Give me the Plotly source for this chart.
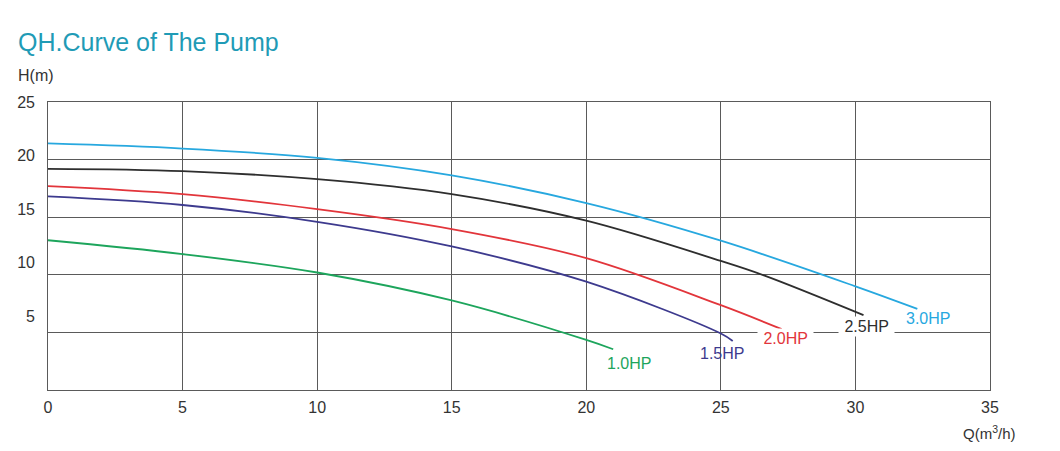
import plotly.graph_objects as go

# ---- data ----
q_30 = [0, 5, 10, 15, 20, 25, 30, 32.3]
h_30 = [21.4, 20.96, 20.15, 18.63, 16.23, 12.96, 9.0, 7.04]

q_25 = [0, 5, 10, 15, 20, 25, 26.6, 30.3]
h_25 = [19.2, 19.0, 18.3, 17.0, 14.7, 11.2, 9.95, 6.5]

q_20 = [0, 5, 10, 15, 20, 25, 27.26]
h_20 = [17.7, 17.0, 15.7, 13.97, 11.45, 7.36, 5.28]

q_15 = [0, 5, 10, 15, 20, 25, 25.44]
h_15 = [16.8, 16.06, 14.6, 12.46, 9.4, 4.9, 4.25]

q_10 = [0, 5, 10, 15, 20, 21.0]
h_10 = [13.0, 11.8, 10.2, 7.77, 4.35, 3.54]

series_names = ["1.0HP", "1.5HP", "2.0HP", "2.5HP", "3.0HP"]
series_colors = ["#1da55c", "#3d3a8e", "#e2353b", "#2e2e2e", "#27a8df"]
# label anchor positions (data units)
label_q = [21.6, 25.04, 27.4, 30.4, 32.7]
label_h = [2.26, 3.2, 4.43, 5.48, 6.17]
label_bg = [False, False, True, True, False]

x_ticks = [0, 5, 10, 15, 20, 25, 30, 35]
y_ticks = [5, 10, 15, 20, 25]

FONT = "Liberation Sans, Arial, sans-serif"
GRID = "#5a5a5a"
TXT = "#333333"

fig = go.Figure()
data = [(q_10, h_10), (q_15, h_15), (q_20, h_20), (q_25, h_25), (q_30, h_30)]
for (q, h), name, col in zip(data, series_names, series_colors):
    fig.add_trace(go.Scatter(x=q, y=h, mode="lines", name=name,
                             line=dict(color=col, width=1.8, shape="spline", smoothing=1.0),
                             showlegend=False, hoverinfo="skip"))

# invisible helper trace so the label axis is drawn
fig.add_trace(go.Scatter(x=[x_ticks[0]], y=[y_ticks[0]], yaxis="y2", mode="markers",
                         marker=dict(opacity=0), showlegend=False, hoverinfo="skip"))

for name, col, lq, lh, bg in zip(series_names, series_colors, label_q, label_h, label_bg):
    txt = "&nbsp;" + name + "&nbsp;" if bg else name
    fig.add_annotation(x=lq, y=lh, xref="x", yref="y", text=txt, showarrow=False,
                       font=dict(family=FONT, size=16, color=col),
                       bgcolor="white" if bg else "rgba(0,0,0,0)", borderpad=1)

fig.add_annotation(x=-0.034, y=1.092, xref="paper", yref="paper", text="H(m)",
                   showarrow=False, xanchor="left", yanchor="middle",
                   font=dict(family=FONT, size=16, color=TXT))
fig.add_annotation(x=1.0297, y=-0.146, xref="paper", yref="paper",
                   text="Q(m<sup>3</sup>/h)", showarrow=False, xanchor="right",
                   yanchor="middle", font=dict(family=FONT, size=15, color=TXT))

fig.update_layout(
    width=1060, height=451,
    margin=dict(l=48, r=70, t=102, b=61),
    paper_bgcolor="white", plot_bgcolor="white",
    title=dict(text="QH.Curve of The Pump", x=18 / 1060, xanchor="left",
               xref="container", y=1 - 42 / 451, yanchor="middle", yref="container",
               font=dict(family=FONT, size=25, color="#1f9bb6")),
    xaxis=dict(range=[0, 35], tickvals=x_ticks, showgrid=True, gridcolor=GRID,
               gridwidth=1.3, showline=True, linecolor=GRID, linewidth=1.3, mirror=True,
               zeroline=False, ticks="", ticklabelstandoff=3,
               tickfont=dict(family=FONT, size=16, color=TXT)),
    yaxis=dict(range=[0, 25], tickvals=y_ticks, showgrid=True, gridcolor=GRID,
               gridwidth=1.3, showline=True, linecolor=GRID, linewidth=1.3, mirror=True,
               zeroline=False, showticklabels=False, ticks=""),
    yaxis2=dict(overlaying="y", side="left", range=[-1.87, 25.0], tickvals=y_ticks,
                showgrid=False, showline=False, zeroline=False, ticks="",
                ticklabelstandoff=12,
                tickfont=dict(family=FONT, size=16, color=TXT)),
)

fig.write_html("out.html")
